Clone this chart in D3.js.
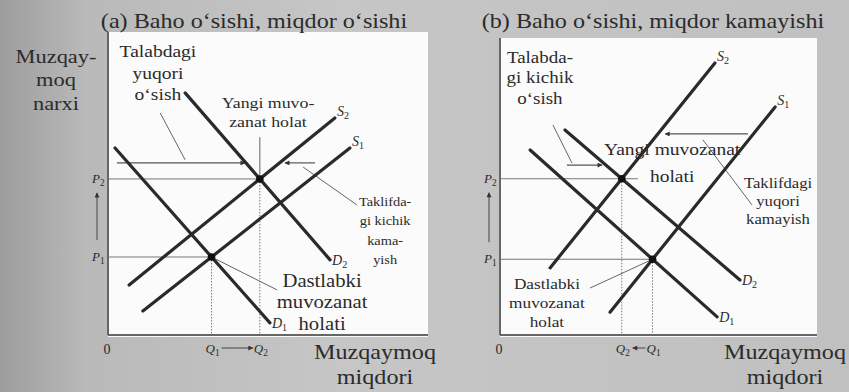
<!DOCTYPE html>
<html>
<head>
<meta charset="utf-8">
<script src="https://cdn.jsdelivr.net/npm/d3@7"></script>
<style>
  body { margin: 0; background: #c3c3c3; }
  text { font-family: "Liberation Serif", "DejaVu Serif", serif; fill: #2b2b2b; }
</style>
</head>
<body>
<svg id="chart" width="849" height="392"></svg>
<script>
// Curve end points, quantity / price in 0-100 units
const demandA1 = [[2.2, 61.7], [50.6, 4.0]];
const demandA2 = [[24.1, 79.9], [69.4, 24.8]];
const supplyA1 = [[10.9, 7.9], [75.6, 61.7]];
const supplyA2 = [[6.6, 16.5], [70.9, 71.6]];

const demandB1 = [[9.5, 62.3], [68.5, 6.1]];
const demandB2 = [[20.5, 69.0], [75.7, 18.5]];
const supplyB1 = [[34.7, 7.7], [86.8, 76.8]];
const supplyB2 = [[15.8, 22.6], [67.8, 91.6]];

// shift arrows [from, to] and pointer lines
const arrowsA = [[[2.8, 56.8], [42.8, 56.8]], [[64.7, 56.8], [55.3, 56.8]]];
const pointersA = [[[16.3, 73.3], [24.1, 57.8]], [[61.0, 55.4], [77.8, 42.9]]];
const arrowsB = [[[21.1, 57.2], [32.2, 57.2]], [[78.2, 67.7], [52.1, 67.7]]];
const pointersB = [[[16.7, 70.7], [22.7, 57.9]], [[64.0, 65.7], [79.5, 43.8]]];

const titles = ["(a) Baho o‘sishi, miqdor o‘sishi", "(b) Baho o‘sishi, miqdor kamayishi"];
const yLabel = ["Muzqay-", "moq", "narxi"];
const xLabel = ["Muzqaymoq", "miqdori"];

// notes: lines, anchor (data units), font size, line height
const notesA = [
  { lines: ["Talabdagi", "yuqori", "o‘sish"], at: [15.6, 91.7], size: 17, lh: 21.5 },
  { lines: ["Yangi muvo-", "zanat holat"], at: [50, 74.9], size: 15.5, lh: 19 },
  { lines: ["Taklifda-", "gi kichik", "kama-", "yish"], at: [86.6, 42.6], size: 12.5, lh: 19.5 },
  { lines: ["Dastlabki", "muvozanat", "holati"], at: [66.9, 15.9], size: 18, lh: 21.5 }
];
const notesB = [
  { lines: ["Talabda-", "gi kichik", "o‘sish"], at: [12.6, 91.6], size: 16.5, lh: 20.5 },
  { lines: ["Yangi muvozanat", "holati"], at: [54.3, 60.6], size: 17, lh: 27 },
  { lines: ["Taklifdagi", "yuqori", "kamayish"], at: [87.7, 49.5], size: 14.5, lh: 18 },
  { lines: ["Dastlabki", "muvozanat", "holat"], at: [14.8, 15.5], size: 15, lh: 19 }
];

const STRETCH = 1.15;
const svg = d3.select("#chart");

// background: scanned grey page, darker at the left edge
let defs = svg.append("defs");
let grad = defs.append("linearGradient").attr("id", "page");
grad.append("stop").attr("offset", "0%").attr("stop-color", "#9d9d9d");
grad.append("stop").attr("offset", "10%").attr("stop-color", "#b9b9b9");
grad.append("stop").attr("offset", "40%").attr("stop-color", "#c6c6c6");
grad.append("stop").attr("offset", "100%").attr("stop-color", "#c0c0c0");
svg.append("rect").attr("width", 849).attr("height", 392).attr("fill", "url(#page)");

defs.append("marker").attr("id", "head")
  .attr("viewBox", "0 0 10 10").attr("refX", 9).attr("refY", 5)
  .attr("markerWidth", 7).attr("markerHeight", 5).attr("orient", "auto")
  .attr("markerUnits", "userSpaceOnUse")
  .append("path").attr("d", "M0,0L10,5L0,10Z").attr("fill", "#333");

let intersect = (a, b) => {
  let [[x1, y1], [x2, y2]] = a, [[x3, y3], [x4, y4]] = b;
  let d = (x1 - x2) * (y3 - y4) - (y1 - y2) * (x3 - x4);
  let t = ((x1 - x3) * (y3 - y4) - (y1 - y3) * (x3 - x4)) / d;
  return [x1 + t * (x2 - x1), y1 + t * (y2 - y1)];
};

// multi-line text, horizontally widened like the scanned typeface
let block = (parent, x, y, lines, size, lh) => {
  let t = parent.append("g").attr("transform", `translate(${x},${y}) scale(${STRETCH},1)`)
    .append("text").attr("text-anchor", "middle").style("font-size", size + "px");
  lines.forEach((l, i) => t.append("tspan").attr("x", 0).attr("y", i * lh).text(l));
  return t;
};

let subLabel = (g, x, y, letter, sub, size) => {
  let t = g.append("text").attr("x", x).attr("y", y)
    .style("font-size", size + "px").style("font-style", "italic");
  t.append("tspan").text(letter);
  t.append("tspan").attr("dy", size * 0.22).style("font-size", (size * 0.72) + "px")
    .style("font-style", "normal").text(sub);
  return t;
};

let drawPanel = (p) => {
  let x = d3.scaleLinear().domain([0, 100]).range([p.left, p.right]);
  let y = d3.scaleLinear().domain([0, 100]).range([p.bottom, p.top]);
  let g = svg.append("g");

  g.append("rect").attr("x", p.left).attr("y", p.top)
    .attr("width", p.right - p.left).attr("height", p.bottom - p.top + 2)
    .attr("fill", "#fbfbfb");

  // axes
  g.append("line").attr("x1", x(0)).attr("x2", x(0)).attr("y1", p.top).attr("y2", y(0))
    .attr("stroke", "#666").attr("stroke-width", 2);
  g.append("line").attr("x1", x(0)).attr("x2", x(100)).attr("y1", y(0)).attr("y2", y(0))
    .attr("stroke", "#666").attr("stroke-width", 2);

  let e1 = intersect(p.d1, p.s1), e2 = intersect(p.d2, p.s2);

  // price guides
  [[e1, null], [e2, p.p2End]].forEach(([e, end]) => {
    g.append("line").attr("x1", x(0)).attr("x2", x(end || e[0]))
      .attr("y1", y(e[1])).attr("y2", y(e[1])).attr("stroke", "#777").attr("stroke-width", 1);
  });
  // quantity guides
  [e1, e2].forEach(e => {
    g.append("line").attr("x1", x(e[0])).attr("x2", x(e[0]))
      .attr("y1", y(e[1])).attr("y2", y(0))
      .attr("stroke", "#777").attr("stroke-width", 1).attr("stroke-dasharray", "1.5,1.5");
  });

  // thin pointers and shift arrows
  let line = d3.line().x(d => x(d[0])).y(d => y(d[1]));
  p.pointers.concat(p.extraPointers(e1, e2)).forEach(pt => {
    g.append("path").attr("d", line(pt)).attr("stroke", "#666").attr("stroke-width", 1).attr("fill", "none");
  });
  p.arrows.forEach(a => {
    g.append("path").attr("d", line(a)).attr("stroke", "#555").attr("stroke-width", 1.2)
      .attr("fill", "none").attr("marker-end", "url(#head)");
  });

  // curves
  [[p.d1, "D", "1", "low"], [p.d2, "D", "2", "low"], [p.s1, "S", "1", "high"], [p.s2, "S", "2", "high"]]
    .forEach(([c, letter, sub, end]) => {
      g.append("path").attr("d", line(c)).attr("stroke", "#2a2a2a")
        .attr("stroke-width", 3.2).attr("stroke-linecap", "round").attr("fill", "none");
      let pt = c[1];
      if (end === "low") subLabel(g, x(pt[0]) + 2, y(pt[1]) + 5, letter, sub, 14);
      else subLabel(g, x(pt[0]) + 2, y(pt[1]) - 2, letter, sub, 14);
    });

  [e1, e2].forEach(e => {
    g.append("circle").attr("cx", x(e[0])).attr("cy", y(e[1])).attr("r", 3.8).attr("fill", "#111");
  });

  // P and Q labels
  subLabel(g, x(0) - 16, y(e2[1]) + 4, "P", "2", 13);
  subLabel(g, x(0) - 16, y(e1[1]) + 4, "P", "1", 13);
  g.append("path").attr("d", `M${x(0) - 11},${y(e1[1]) - 17}L${x(0) - 11},${y(e2[1]) + 14}`)
    .attr("stroke", "#444").attr("stroke-width", 1).attr("marker-end", "url(#head)");

  g.append("text").attr("x", x(0) - 1).attr("y", y(0) + 19).attr("text-anchor", "middle")
    .style("font-size", "14px").text("0");
  subLabel(g, x(e1[0]) - 6, y(0) + 18, "Q", "1", 13);
  subLabel(g, x(e2[0]) - 6, y(0) + 18, "Q", "2", 13);
  let from = x(e1[0]) + (p.growing ? 10 : -7), to = x(e2[0]) + (p.growing ? -7 : 11);
  g.append("path").attr("d", `M${from},${y(0) + 13}L${to},${y(0) + 13}`)
    .attr("stroke", "#444").attr("stroke-width", 1).attr("marker-end", "url(#head)");

  // notes
  p.notes.forEach(n => block(g, x(n.at[0]), y(n.at[1]), n.lines, n.size, n.lh));

  // axis label and title
  block(svg, p.xLabelX, 359, xLabel, 21, 25);
  block(svg, p.titleX, 28, [p.title], 21, 0);
};

drawPanel({
  left: 108, right: 428, top: 32, bottom: 335,
  d1: demandA1, d2: demandA2, s1: supplyA1, s2: supplyA2,
  arrows: arrowsA, pointers: pointersA,
  extraPointers: (e1, e2) => [[[e2[0], 65.3], e2], [e1, [52.8, 14.9]]],
  notes: notesA, growing: true,
  xLabelX: 375, titleX: 254, title: titles[0]
});

drawPanel({
  left: 500, right: 817, top: 38, bottom: 335,
  d1: demandB1, d2: demandB2, s1: supplyB1, s2: supplyB2,
  arrows: arrowsB, pointers: pointersB, p2End: 43.5,
  extraPointers: (e1, e2) => [[e1, [28.4, 15.8]]],
  notes: notesB, growing: false,
  xLabelX: 785, titleX: 653, title: titles[1]
});

block(svg, 56, 63, yLabel, 19.5, 23.5);
</script>
</body>
</html>
